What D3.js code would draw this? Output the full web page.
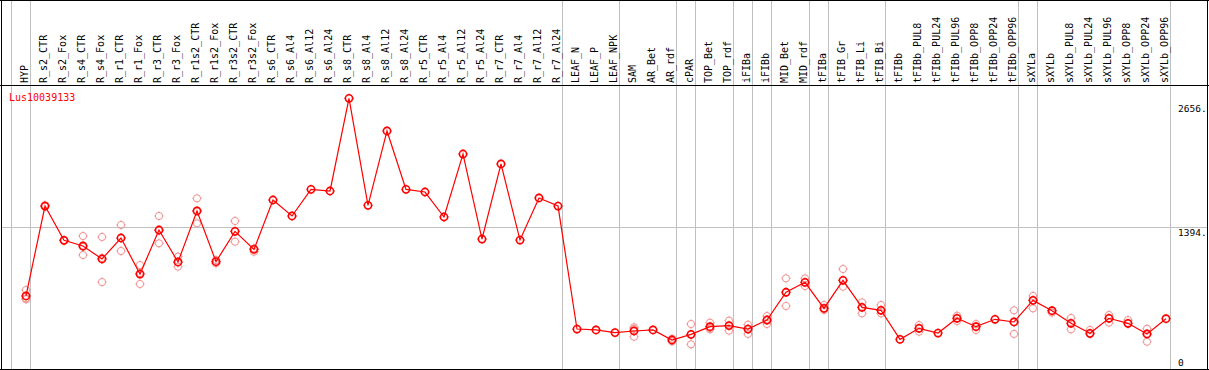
<!DOCTYPE html>
<html><head><meta charset="utf-8">
<script src="https://cdn.jsdelivr.net/npm/d3@7/dist/d3.min.js"></script>
<style>body{margin:0;background:#fff}svg{display:block}</style>
</head><body><svg id="c" width="1209" height="370"></svg>
<script>
const categories = ["HYP","R_s2_CTR","R_s2_Fox","R_s4_CTR","R_s4_Fox","R_r1_CTR","R_r1_Fox","R_r3_CTR","R_r3_Fox","R_r1s2_CTR","R_r1s2_Fox","R_r3s2_CTR","R_r3s2_Fox","R_s6_CTR","R_s6_Al4","R_s6_Al12","R_s6_Al24","R_s8_CTR","R_s8_Al4","R_s8_Al12","R_s8_Al24","R_r5_CTR","R_r5_Al4","R_r5_Al12","R_r5_Al24","R_r7_CTR","R_r7_Al4","R_r7_Al12","R_r7_Al24","LEAF_N","LEAF_P","LEAF_NPK","SAM","AR_Bet","AR_rdf","cPAR","TOP_Bet","TOP_rdf","iFIBa","iFIBb","MID_Bet","MID_rdf","tFIBa","tFIB_Gr","tFIB_Li","tFIB_Bi","tFIBb","tFIBb_PUL8","tFIBb_PUL24","tFIBb_PUL96","tFIBb_OPP8","tFIBb_OPP24","tFIBb_OPP96","sXYLa","sXYLb","sXYLb_PUL8","sXYLb_PUL24","sXYLb_PUL96","sXYLb_OPP8","sXYLb_OPP24","sXYLb_OPP96"];
const means = [723,1601,1266,1211,1084,1289,937,1367,1055,1553,1058,1354,1178,1660,1504,1764,1748,2653,1608,2334,1764,1738,1494,2109,1279,2012,1269,1680,1601,400,391,365,381,391,293,348,423,433,400,488,759,856,602,876,612,583,299,407,361,505,423,495,469,680,579,456,358,505,456,352,501];
const reps = [[781,700,690],[1610,1595],[1270,1262],[1308,1123,1202],[1299,859,1094],[1416,1162,1289],[1025,840,946],[1504,1237,1360],[1107,1009,1049],[1676,1432,1551],[1042,1074],[1455,1253,1354],[1155,1188],[],[],[],[],[],[],[],[],[],[],[],[],[],[],[],[],[],[],[],[417,325,401],[],[280,306],[449,251,344],[462,397,410],[482,384,433],[442,352,400],[527,449,488],[895,625,759],[895,820,856],[635,586,602],[986,813,876],[661,553,612],[635,553,583],[],[439,374,407],[],[530,478,505],[449,391,423],[],[583,352,469],[723,602,680],[560,579],[508,397,456],[391,350],[537,462,505],[488,450],[403,276,352],[]];
const groupEnds = [-1,0,28,31,34,35,37,38,39,41,42,45,52,53,60];
const yTicks = [0,1394,2656];
const geneId = "Lus10039133";

const svg = d3.select("#c");
const W = 1209, H = 370;
const x = d3.scalePoint().domain(categories).range([26, 26 + 19*(categories.length-1)]);
const y = d3.scaleLinear().domain([0, 2656]).range([370, 98]);
const step = x.step();
const xi = i => x.range()[0] + step*i;
const font = "'DejaVu Sans Mono', 'Liberation Mono', monospace";

// horizontal grid at 1394
svg.append("line").attr("x1",1).attr("x2",1207).attr("y1",Math.round(y(1394))+0.5).attr("y2",Math.round(y(1394))+0.5)
  .attr("stroke","#c0c0c0").attr("stroke-width",1);
// vertical group separators
svg.selectAll("line.g").data(groupEnds).join("line").attr("class","g")
  .attr("x1",d=>Math.floor(xi(d)+4.5)+0.5).attr("x2",d=>Math.floor(xi(d)+4.5)+0.5)
  .attr("y1",0).attr("y2",369).attr("stroke","#c0c0c0").attr("stroke-width",1);

// frame
const frame = svg.append("g").attr("stroke","#000").attr("stroke-width",1);
frame.append("line").attr("x1",0).attr("x2",W).attr("y1",0.5).attr("y2",0.5);
frame.append("line").attr("x1",0).attr("x2",W).attr("y1",85.5).attr("y2",85.5);
frame.append("line").attr("x1",0).attr("x2",W).attr("y1",369.5).attr("y2",369.5);
frame.append("line").attr("x1",1.5).attr("x2",1.5).attr("y1",0).attr("y2",H);
frame.append("line").attr("x1",1207.5).attr("x2",1207.5).attr("y1",0).attr("y2",H);

// column labels
svg.selectAll("text.cat").data(categories).join("text").attr("class","cat")
  .attr("transform",d=>`translate(${x(d)+2},83) rotate(-90)`)
  .attr("font-family",font).attr("font-size","10px").attr("fill","#000").text(d=>d);

// y labels
svg.selectAll("text.yt").data(yTicks).join("text").attr("class","yt")
  .attr("x",1178).attr("y",d=>Math.max(111.5, Math.min(365.5, y(d)+9)))
  .attr("font-family",font).attr("font-size","9.5px").attr("fill","#000")
  .text(d=> d===0 ? "0" : d + ".");

// gene label
svg.append("text").attr("x",9).attr("y",100.5).attr("font-family",font).attr("font-size","10px")
  .attr("fill","#ff0000").text(geneId);

function marker(g, cx, cy, color, sw, r){
  g.append("circle").attr("cx",cx).attr("cy",cy).attr("r",r).attr("fill","none").attr("stroke",color).attr("stroke-width",sw);
  const o = r + 1.2;
  const t = [[0,-r,0,-o],[0,r,0,o],[-r,0,-o,0],[r,0,o,0]];
  t.forEach(a=>g.append("line").attr("x1",cx+a[0]).attr("y1",cy+a[1]).attr("x2",cx+a[2]).attr("y2",cy+a[3]).attr("stroke",color).attr("stroke-width",0.8));
}
// replicates
const rg = svg.append("g");
reps.forEach((r,i)=>r.forEach(v=>marker(rg, x(categories[i]), y(v), "#f09090", 1, 3.6)));
// mean line
svg.append("path").datum(means).attr("fill","none").attr("stroke","#ff0000").attr("stroke-width",1.2)
  .attr("d", d3.line().x((d,i)=>x(categories[i])).y(d=>y(d)));
const mg = svg.append("g");
means.forEach((v,i)=>marker(mg, x(categories[i]), y(v), "#ff0000", 1.6, 3.6));
</script></body></html>
